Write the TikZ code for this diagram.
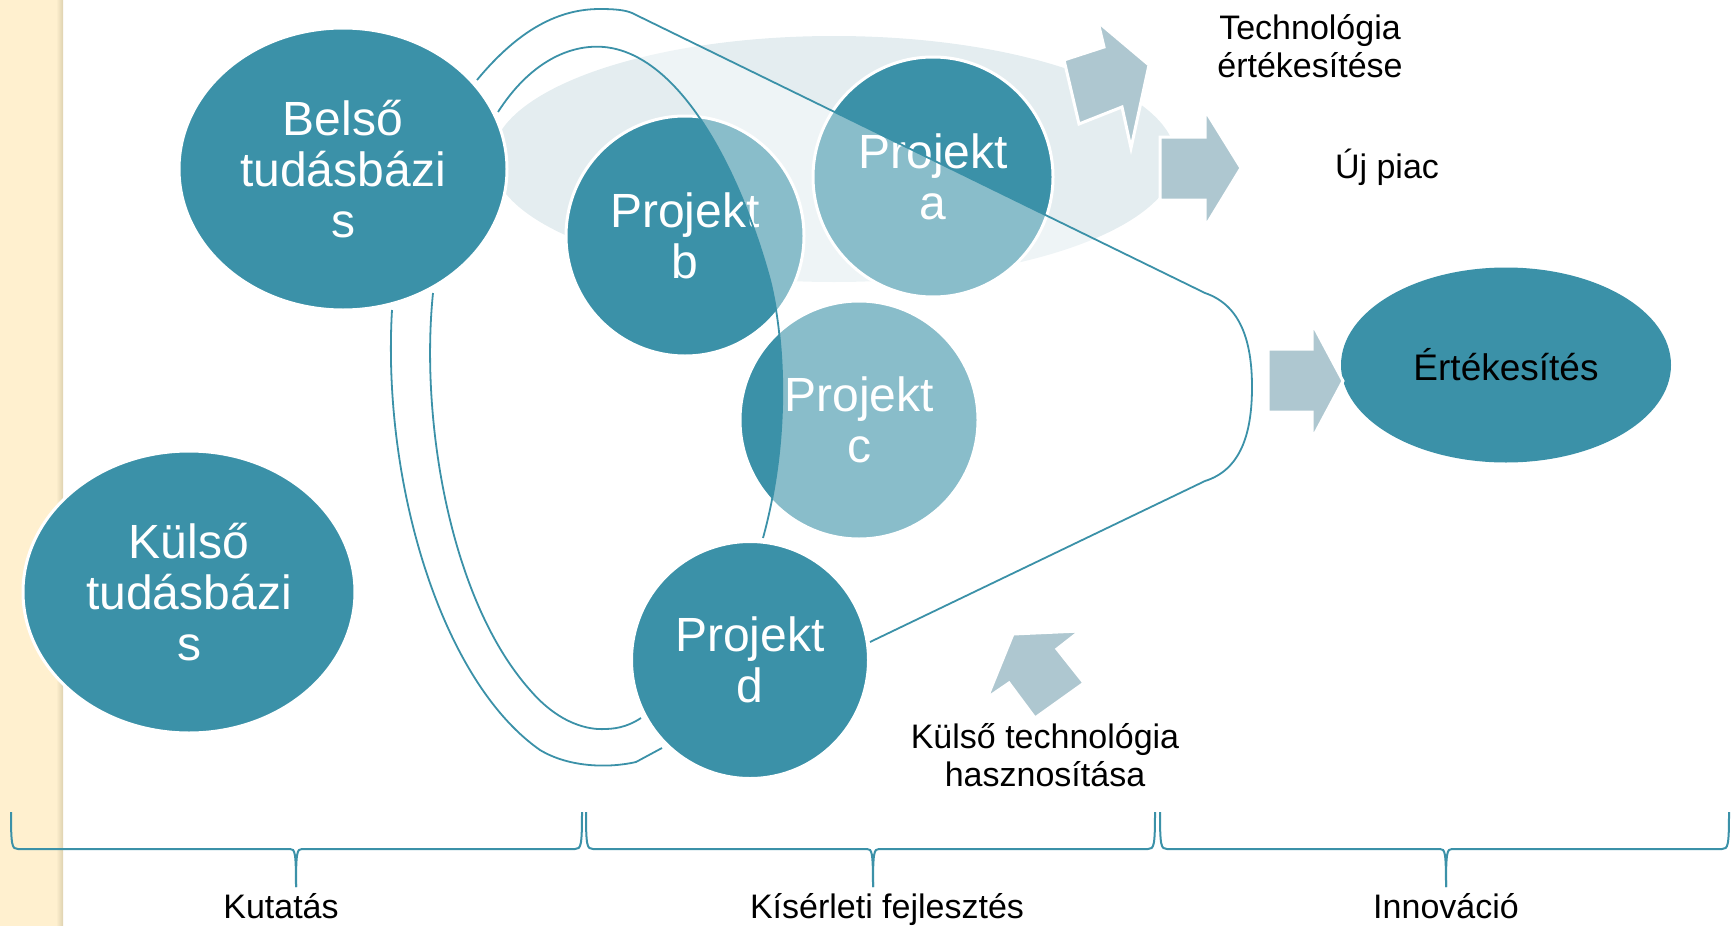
\documentclass[tikz,border=0pt]{standalone}
\usepackage{fontspec}
\setmainfont{Liberation Sans}
\usepackage{xcolor}
\usepackage{tikz}
\usetikzlibrary{shapes.geometric}

\definecolor{tealdark}{HTML}{3B91A8}
\definecolor{arrowgrey}{HTML}{AEC7D0}
\definecolor{palebg}{HTML}{E4EDF0}
\definecolor{beige}{HTML}{FFF0CF}
\definecolor{beigeedge}{HTML}{DED2B0}

\begin{document}
\begin{tikzpicture}[x=1pt, y=-1pt,
        bubble/.style={ellipse, fill=tealdark, draw=white, line width=3pt, inner sep=0pt,
            text=white, align=center, font=\fontsize{48}{51}\selectfont},
        funnel/.style={draw=tealdark, line width=1.8pt},
        blockarrow/.style={fill=arrowgrey, draw=white, line width=3pt},
        caption/.style={align=center, font=\fontsize{34}{38}\selectfont},
        bracket/.style={draw=tealdark, line width=2pt}]
        % background
        \useasboundingbox (0, 0) rectangle (1733, 926);
        \fill[beige] (0, 0) rectangle (56, 926);
        \shade[left color=beige, right color=beigeedge] (56, 0) rectangle (63, 926);
        \fill[palebg] (834, 159) ellipse [x radius=342pt, y radius=123pt];
        % projects
        \node[bubble, minimum width=240pt, minimum height=240pt] (pa) at (933, 177) {Projekt\\a};
        \node[bubble, minimum width=238pt, minimum height=240pt] (pb) at (685, 236) {Projekt\\b};
        \node[bubble, minimum width=238pt, minimum height=238pt] (pc) at (859, 420) {Projekt\\c};
        % lighter inside of the funnel
        \fill[white, opacity=0.4] (498, 112) .. controls (530, 62) and (570, 44) .. (604, 47)
            .. controls (680, 54) and (740, 170) .. (770, 280)
            .. controls (785, 340) and (790, 440) .. (763, 538) -- (873, 641) -- (1205, 481)
            .. controls (1240, 470) and (1252, 435) .. (1252, 387)
            .. controls (1252, 340) and (1240, 305) .. (1205, 293) -- (632, 13)
            .. controls (625, 10) and (615, 9) .. (600, 9)
            .. controls (560, 9) and (520, 28) .. (477, 80) -- cycle;
        % funnel lines
        \draw[funnel] (477, 80) .. controls (520, 28) and (560, 9) .. (600, 9)
            .. controls (615, 9) and (625, 10) .. (632, 13) -- (1205, 293)
            .. controls (1240, 305) and (1252, 340) .. (1252, 387)
            .. controls (1252, 435) and (1240, 470) .. (1205, 481) -- (870, 642);
        \draw[funnel] (498, 112) .. controls (530, 62) and (570, 44) .. (604, 47)
            .. controls (680, 54) and (740, 170) .. (770, 280)
            .. controls (785, 340) and (790, 440) .. (763, 538);
        \draw[funnel] (392, 310) .. controls (382, 480) and (440, 680) .. (540, 750)
            .. controls (570, 768) and (610, 768) .. (636, 762) -- (662, 748);
        \draw[funnel] (433, 293) .. controls (420, 420) and (450, 600) .. (530, 690)
            .. controls (560, 725) and (590, 730) .. (605, 729)
            .. controls (620, 729) and (632, 724) .. (641, 718);
        % knowledge bases
        \node[bubble, minimum width=328pt, minimum height=282pt] (belso) at (343, 169) {Belső\\tudásbázi\\s};
        \node[bubble, minimum width=332pt, minimum height=282pt] (kulso) at (189, 592) {Külső\\tudásbázi\\s};
        \node[bubble, minimum width=237pt, minimum height=237pt] (pd) at (750, 660) {Projekt\\d};
        \node[bubble, draw=none, text=black, font=\fontsize{37}{40}\selectfont,
            minimum width=330pt, minimum height=195pt] (ertek) at (1506, 365) {Értékesítés};
        % arrows
        \draw[blockarrow] (1098, 22) -- (1149, 65) -- (1131, 148) -- (1122, 107) -- (1079, 124) -- (1064, 60) -- (1104, 47) -- cycle;
        \draw[blockarrow] (1160, 137) -- (1205, 137) -- (1205, 110) -- (1241, 168) -- (1205, 227) -- (1205, 200) -- (1160, 200) -- cycle;
        \draw[blockarrow] (1268, 349) -- (1312, 349) -- (1312, 323) -- (1343, 381) -- (1312, 439) -- (1312, 412) -- (1268, 412) -- cycle;
        \draw[blockarrow] (1013, 634) -- (1080, 631) -- (1057, 649) -- (1084, 683) -- (1035, 718) -- (1009, 683) -- (987, 698) -- cycle;
        % labels
        \node[caption] (techert) at (1310, 46) {Technológia\\értékesítése};
        \node[caption, anchor=base] (ujpiac) at (1387, 178) {Új piac};
        \node[caption] (kulsotech) at (1045, 755) {Külső technológia\\hasznosítása};
        % phases
        \foreach \xa/\xm/\xb in {11/296/582, 586/873/1155, 1160/1446/1729} {
            \draw[bracket] (\xa, 812) .. controls (\xa, 846) and (\xa + 1, 849) .. (\xa + 7, 849) -- (\xm - 6, 849)
                .. controls (\xm - 1, 849) and (\xm, 852) .. (\xm, 887);
            \draw[bracket] (\xb, 812) .. controls (\xb, 846) and (\xb - 1, 849) .. (\xb - 7, 849) -- (\xm + 6, 849)
                .. controls (\xm + 1, 849) and (\xm, 852) .. (\xm, 887);
        }
        \node[caption, anchor=base] (kutatas) at (281, 918) {Kutatás};
        \node[caption, anchor=base] (kiserleti) at (887, 918) {Kísérleti fejlesztés};
        \node[caption, anchor=base] (innovacio) at (1446, 918) {Innováció};
\end{tikzpicture}
\end{document}
